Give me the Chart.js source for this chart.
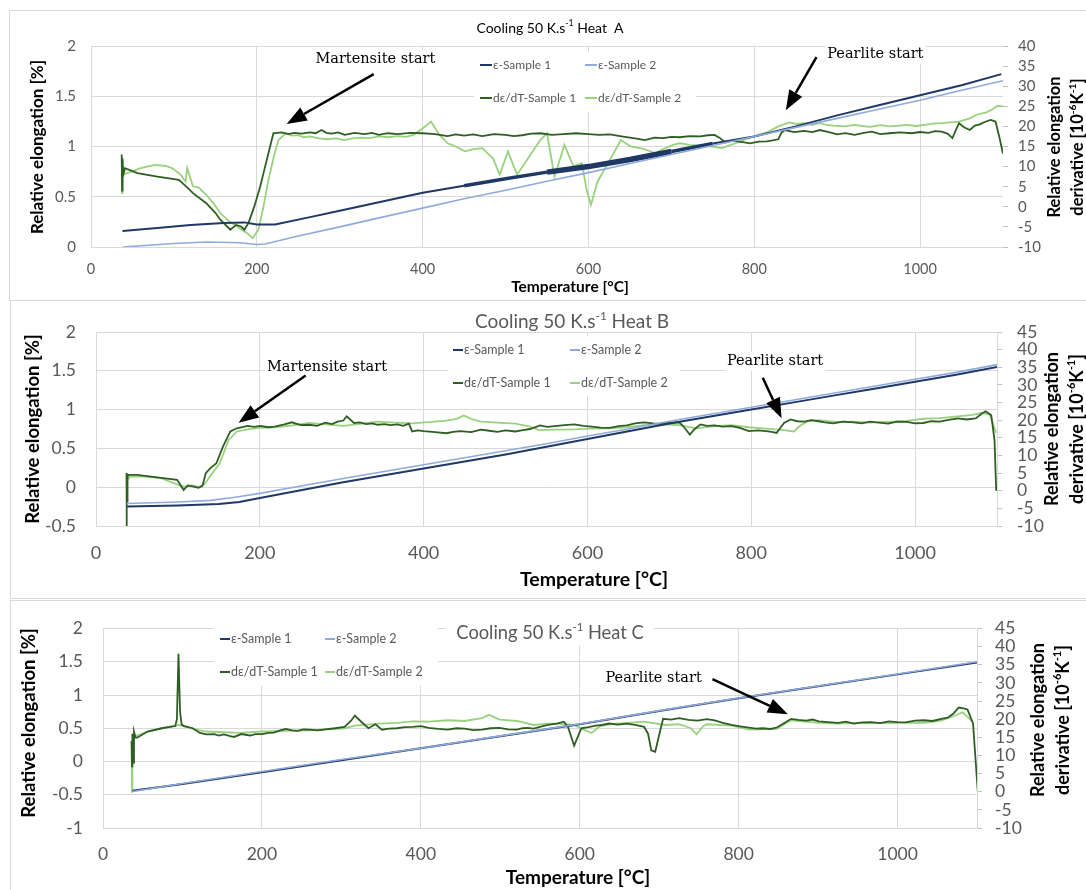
<!DOCTYPE html>
<html>
<head>
<meta charset="utf-8">
<script src="https://cdn.jsdelivr.net/npm/chart.js@4.4.1/dist/chart.umd.min.js"></script>
<style>
  body { margin: 0; background: #fff; }
  #wrap { position: relative; width: 1086px; height: 890px; overflow: hidden; }
  canvas { position: absolute; left: 0; }
  .box { position: absolute; border: 1px solid #d9d9d9; box-sizing: border-box; }
</style>
</head>
<body>
<div id="wrap">
  <div class="box" style="left:9px;top:10px;width:1100px;height:291px"></div>
  <div class="box" style="left:10px;top:300px;width:1100px;height:299px"></div>
  <div class="box" style="left:10px;top:600px;width:1100px;height:300px"></div>
  <canvas id="chartA" width="1086" height="300" style="top:0"></canvas>
  <canvas id="chartB" width="1086" height="298" style="top:300px"></canvas>
  <canvas id="chartC" width="1086" height="292" style="top:598px"></canvas>
</div>
<script>
// ---- data (temperature [°C], value) ----
const seriesLabels = ['ε-Sample 1', 'ε-Sample 2', 'dε/dT-Sample 1', 'dε/dT-Sample 2'];
const tempRange = [0, 1100, 200];

// Heat A
const A_eps1 = [[38,0.16],[80,0.19],[120,0.22],[160,0.24],[185,0.245],[200,0.225],[222,0.225],[260,0.29],[300,0.36],[350,0.45],[400,0.54],[450,0.61],[500,0.68],[550,0.745],[600,0.8],[650,0.87],[700,0.95],[750,1.03],[800,1.1],[850,1.2],[900,1.31],[950,1.41],[1000,1.51],[1050,1.61],[1098,1.72]];
const A_eps2 = [[38,0.0],[100,0.035],[140,0.05],[180,0.042],[200,0.025],[210,0.03],[250,0.11],[300,0.2],[350,0.295],[400,0.387],[450,0.48],[500,0.565],[550,0.655],[600,0.74],[650,0.83],[700,0.92],[750,1.01],[800,1.1],[850,1.19],[900,1.28],[950,1.37],[1000,1.46],[1050,1.56],[1100,1.655]];
const A_d1 = [[37,13],[37.5,4],[38,12],[39,8],[41,9.6],[56,8.4],[80,7.5],[106,6.7],[115,5],[123,3.4],[139,0.9],[150,-1.5],[156,-3.2],[168,-5.7],[175,-4.5],[181,-4.9],[185,-5.7],[190,-4],[197,0.1],[204,5],[210,10],[216,15],[220,18.3],[230,18.5],[238,18.1],[245,18.4],[254,18.2],[264,18.5],[271,18.3],[278,19.1],[284,18.4],[290,18.2],[298,18.5],[306,17.9],[318,18.4],[330,18.1],[339,18.4],[347,17.9],[358,18.3],[370,18.1],[385,18.4],[400,18.3],[415,18.1],[430,17.6],[440,18],[450,17.7],[461,18],[472,17.6],[486,18.1],[500,17.9],[510,17.6],[520,17.8],[531,18.2],[542,18.3],[556,17.9],[570,18.1],[585,18.3],[600,18.1],[613,17.9],[626,18],[638,17.6],[650,17.2],[660,16.9],[668,16.6],[680,17.2],[690,17.1],[700,17.4],[710,17.3],[722,17.6],[735,17.5],[744,17.8],[752,17.9],[758,17.2],[765,16],[772,16.4],[780,16.3],[788,16],[795,15.8],[805,16.2],[815,16.3],[822,16.5],[829,16.8],[833,18.5],[837,19.1],[848,18.6],[860,18.9],[870,18.6],[879,19.1],[890,18.6],[900,18],[910,18.3],[921,17.9],[932,18.4],[942,18.7],[952,18.1],[963,18.3],[976,18.5],[990,18.3],[1000,18.6],[1010,18.4],[1018,18.8],[1026,18.7],[1033,18.2],[1039,17.1],[1043,19],[1047,20.8],[1053,19.8],[1060,19.1],[1066,20.2],[1072,20.5],[1078,21.1],[1085,21.6],[1091,21.2],[1096,17],[1100,13.2]];
const A_d2 = [[37,8.4],[37.5,3.4],[38,8],[44,8.4],[60,9.6],[77,10.4],[90,10.2],[98,9.6],[108,8],[114,6.3],[116,9.6],[123,5.1],[130,4.8],[139,3],[148,0.8],[156,-1.6],[166,-3.5],[176,-4.9],[188,-6.5],[195,-7.8],[202,-5.7],[208,0],[214,6.7],[220,12],[226,16.6],[235,18.3],[242,17.7],[250,17.8],[257,17.3],[264,17.5],[275,17],[285,16.8],[296,17],[306,16.6],[315,17],[325,17.2],[336,17.1],[347,17.5],[358,17.3],[370,17.6],[380,17.4],[389,17.9],[400,19.5],[410,21.2],[420,18],[430,15.8],[440,15],[451,13.8],[460,14.3],[472,14.6],[485,12],[493,8],[503,13.8],[510,10],[514,8],[526,11.7],[542,16.6],[550,18.3],[559,7.5],[571,15.4],[582,10],[592,10.9],[598,4],[603,0.5],[611,6.3],[626,11.7],[639,16.6],[651,15],[665,14.5],[672,14],[681,13.3],[688,14.2],[695,14.8],[702,15.4],[710,15.8],[722,15.4],[735,15.2],[748,15],[761,14.6],[770,15.3],[780,16],[790,16.8],[800,17.5],[815,18.5],[829,20],[842,21],[851,20.6],[860,20.8],[870,20.4],[879,20.8],[887,20.4],[895,20.2],[909,20],[921,20.4],[930,20.1],[940,19.9],[952,20.3],[963,20],[975,20.2],[985,20.4],[995,20.1],[1005,20.4],[1015,20.7],[1025,20.8],[1036,21],[1047,21.2],[1060,22],[1068,22.9],[1080,23.5],[1087,24.2],[1093,25.1],[1100,25]];

// Heat B
const B_eps1 = [[38,-0.25],[100,-0.235],[150,-0.215],[175,-0.19],[200,-0.14],[250,-0.04],[300,0.06],[350,0.15],[400,0.24],[450,0.33],[500,0.42],[550,0.52],[600,0.62],[650,0.72],[700,0.82],[750,0.91],[800,1.0],[850,1.09],[900,1.18],[950,1.27],[1000,1.36],[1050,1.45],[1100,1.55]];
const B_eps2 = [[38,-0.21],[100,-0.19],[140,-0.17],[170,-0.13],[200,-0.08],[250,0.015],[300,0.11],[350,0.2],[400,0.29],[450,0.38],[500,0.47],[550,0.56],[600,0.66],[650,0.75],[700,0.85],[750,0.94],[800,1.03],[850,1.12],[900,1.21],[950,1.3],[1000,1.39],[1050,1.48],[1100,1.58]];
const B_d1 = [[37,-10],[37.5,5],[38,-3],[38.5,4],[40,4.5],[50,4.5],[75,3.8],[99,3.1],[107,0.2],[112,1.5],[118,1.2],[125,0.8],[130,1.4],[134,5],[140,6.5],[147,7.8],[155,12.5],[164,16.8],[172,17.7],[185,18.4],[193,18.1],[201,18.4],[210,18],[218,18.2],[230,18.8],[239,19.4],[250,18.6],[260,18.7],[270,18.4],[280,19.3],[288,18.9],[295,19.6],[302,19.9],[306,21.1],[315,19.2],[322,19.4],[330,18.9],[337,19.1],[344,18.7],[352,18.9],[360,18.6],[368,18.8],[375,18.4],[382,19],[386,16.8],[393,17.1],[400,16.9],[414,16.6],[428,16.3],[436,16.7],[445,16.9],[458,16.6],[470,17.3],[480,17],[490,16.7],[500,17.1],[512,16.8],[521,17.2],[530,17.5],[542,18.5],[551,18.1],[560,18.3],[572,18.6],[584,18.8],[595,18.4],[605,18.2],[616,17.9],[627,17.8],[638,18.3],[648,18.5],[658,19.1],[669,19.4],[680,19.1],[690,19],[700,19.2],[712,19.4],[718,18],[725,15.9],[731,17.5],[738,18.8],[746,18.4],[755,18.5],[765,18.2],[776,18.3],[786,17.8],[797,16.9],[808,17.1],[818,16.9],[825,16.7],[831,16.4],[836,18],[840,19.2],[848,20.2],[856,19.7],[865,19.6],[873,20],[882,19.7],[890,19.4],[900,19.1],[912,19.6],[925,19.4],[935,19.1],[945,19.6],[956,19.3],[967,19],[978,19.6],[990,19.5],[1000,19.1],[1010,19.2],[1020,19.7],[1030,19.6],[1041,20.1],[1052,20.5],[1063,20.2],[1074,20.5],[1080,21.6],[1086,22.5],[1093,21.4],[1097,14.3],[1099,0]];
const B_d2 = [[37,5],[37.5,-2.6],[38,3],[42,4],[60,4],[80,3.5],[101,1.6],[109,1.1],[118,1.5],[126,1],[133,2],[139,4],[151,7.8],[162,14.4],[172,16.8],[185,17.4],[200,17.8],[218,18],[240,18.5],[260,19.2],[280,18.8],[302,18.4],[320,18.9],[344,19.6],[365,19.3],[386,19.1],[410,19.5],[428,19.9],[440,20.4],[449,21.3],[460,20.2],[470,19.6],[490,19.3],[512,19],[530,18.2],[541,17.2],[560,17.3],[584,17.4],[605,17.6],[627,17.7],[648,18],[669,18.6],[690,18.8],[712,18.6],[733,17.7],[755,18.3],[776,18.6],[797,18],[818,17.6],[840,17.2],[852,16.8],[860,18.5],[869,19.7],[882,20],[903,19.5],[925,19.6],[945,19.3],[967,19.5],[990,19.8],[1010,20.4],[1030,20.6],[1052,21.1],[1070,21.5],[1082,22.1],[1091,21.6],[1099,16.4]];

// Heat C
const C_eps1 = [[37,-0.44],[100,-0.34],[200,-0.16],[300,0.02],[400,0.2],[500,0.38],[600,0.56],[700,0.76],[800,0.95],[900,1.13],[1000,1.31],[1100,1.49]];
const C_eps2 = [[37,-0.45],[100,-0.33],[200,-0.15],[300,0.03],[400,0.2],[500,0.385],[600,0.565],[700,0.765],[800,0.955],[900,1.135],[1000,1.315],[1100,1.5]];
const C_d1 = [[36,14],[36.5,7],[37,16],[38,8],[39,16.6],[41,14.9],[43,14.9],[56,16.6],[74,17.5],[91,18.1],[93,20],[95,38],[97,22],[99,18.5],[102,18.1],[113,17.5],[122,16.2],[130,15.8],[140,15.9],[146,15.5],[152,15.8],[160,15.3],[165,15.1],[174,15.9],[185,15.5],[192,15.9],[200,15.9],[208,16.2],[215,16.3],[223,16.9],[230,17.3],[238,16.9],[245,16.8],[252,17.2],[260,17.1],[270,16.9],[280,17.2],[292,17.5],[304,17.9],[312,19.5],[317,21],[325,19.3],[334,17.5],[343,18.6],[351,17.1],[360,17.4],[370,17.5],[380,17.8],[390,17.9],[400,18.1],[410,17.6],[422,17.3],[434,17.1],[445,17.5],[455,17.4],[466,17],[477,17.1],[488,17.5],[499,17.6],[510,17.2],[521,17.1],[528,17.5],[535,17.6],[542,17.4],[550,17.9],[560,18.4],[571,18.8],[580,19.3],[585,18],[593,12.7],[602,17.5],[611,17.8],[620,18.2],[628,18.4],[637,18.8],[648,18.5],[659,18.8],[670,18.4],[681,17.9],[686,16],[690,11.4],[695,11],[701,16.6],[705,20.1],[715,19.9],[725,20.3],[737,19.8],[748,19.6],[760,20],[770,19.7],[780,19],[791,18.4],[802,18],[813,17.7],[822,17.4],[830,17.5],[840,17.3],[848,17.7],[857,18.9],[866,20.1],[875,19.8],[885,19.6],[893,19.9],[901,19.4],[913,19.2],[925,19],[935,19.3],[945,18.8],[956,19.1],[967,19.2],[978,18.9],[989,19.4],[1000,19.2],[1010,19.1],[1022,19.6],[1033,19.7],[1044,19.5],[1055,20.1],[1063,20.4],[1070,21.5],[1077,23.2],[1083,23],[1088,22.7],[1095,18.8],[1101,0]];
const C_d2 = [[36,14],[36.5,0],[37,12],[39,15],[43,15.5],[56,16.6],[74,17.5],[95,18.4],[102,18.1],[113,17.3],[130,16.6],[152,16.4],[174,16.2],[200,16.6],[230,16.8],[260,16.9],[304,17.5],[317,18.2],[347,18.8],[370,19],[390,19.4],[410,19.3],[434,19.7],[455,19.5],[477,20.3],[486,21.2],[499,19.9],[521,19.5],[542,18.4],[560,18.8],[571,18.8],[593,18.4],[604,17.2],[615,16.2],[625,18],[637,18.6],[660,19],[681,19.3],[708,18.4],[725,18.6],[740,17.5],[747,15.8],[755,18],[760,18.6],[791,18.2],[813,17.1],[848,17.3],[866,19.7],[901,19],[925,18.8],[945,18.9],[967,19],[989,18.9],[1010,19],[1033,19],[1055,19.6],[1070,20.8],[1082,21.9],[1095,19.2]];

// axis ranges [min, max, step]
const A_left = [0, 2, 0.5],  A_right = [-10, 40, 5];
const B_left = [-0.5, 2, 0.5], B_right = [-10, 45, 5];
const C_left = [-1, 2, 0.5], C_right = [-10, 45, 5];

// annotations: text, text position (T, ε), arrow from (T, ε) to (T, ε)
const A_notes = [['Martensite start', 343, 1.87, 341, 1.72, 236, 1.225], ['Pearlite start', 946, 1.92, 875, 1.89, 838, 1.36]];
const B_notes = [['Martensite start', 282, 1.55, 256, 1.44, 174, 0.83], ['Pearlite start', 829, 1.62, 814, 1.41, 837, 0.89]];
const C_notes = [['Pearlite start', 693, 1.25, 767, 1.24, 862, 0.71]];

// text
const xTitle = 'Temperature [°C]';
const leftTitle = 'Relative elongation [%]';
const rightTitle = [['Relative elongation'], ['derivative [10', '^-6', 'K', '^-1', ']']];

// ---- styling ----
const GRID = '#d9d9d9';
const TXT = '#595959';
const FONT = 'Lato, "DejaVu Sans", sans-serif';
const SERIF = '"DejaVu Serif", "Liberation Serif", serif';
const COLORS = ['#1F3864', '#8FAADC', '#2F5E24', '#9AD17F'];
const WIDTHS = [2, 1.6, 1.8, 1.8];
const ORDER = [1, 0, 2, 3];

Chart.defaults.font.family = FONT;

const plainTick = v => String(Math.round(v * 100) / 100);

function rich(ctx, parts, x, y, size, weight, color, rot) {
  ctx.save();
  ctx.translate(x, y);
  if (rot) ctx.rotate(rot);
  ctx.fillStyle = color;
  ctx.textBaseline = 'middle';
  ctx.textAlign = 'left';
  const items = parts.map(p => p.startsWith('^') ? { t: p.slice(1), sup: true } : { t: p, sup: false });
  const fontOf = s => `${weight} ${s ? size * 0.62 : size}px ${FONT}`;
  let total = 0;
  items.forEach(p => { ctx.font = fontOf(p.sup); total += ctx.measureText(p.t).width; });
  let cx = -total / 2;
  items.forEach(p => {
    ctx.font = fontOf(p.sup);
    ctx.fillText(p.t, cx, p.sup ? -size * 0.32 : 0);
    cx += ctx.measureText(p.t).width;
  });
  ctx.restore();
}

function arrow(ctx, x1, y1, x2, y2) {
  const head = 20, w = 15;
  const a = Math.atan2(y2 - y1, x2 - x1);
  const bx = x2 - head * Math.cos(a), by = y2 - head * Math.sin(a);
  ctx.save();
  ctx.strokeStyle = '#000';
  ctx.fillStyle = '#000';
  ctx.lineWidth = 2.5;
  ctx.beginPath(); ctx.moveTo(x1, y1); ctx.lineTo(bx, by); ctx.stroke();
  ctx.beginPath();
  ctx.moveTo(x2, y2);
  ctx.lineTo(bx + w / 2 * Math.sin(a), by - w / 2 * Math.cos(a));
  ctx.lineTo(bx - w / 2 * Math.sin(a), by + w / 2 * Math.cos(a));
  ctx.closePath(); ctx.fill();
  ctx.restore();
}

function makePanel(P) {
  const toXY = arr => arr.map(p => ({ x: p[0], y: p[1] }));
  const datasets = P.series.map((s, i) => ({
    label: seriesLabels[i],
    data: toXY(s),
    borderColor: COLORS[i],
    borderWidth: WIDTHS[i],
    pointRadius: 0,
    tension: 0,
    yAxisID: i < 2 ? 'y' : 'y2',
    order: ORDER[i],
    segment: (P.band && i === 0) ? { borderWidth: c => P.band(c.p0.parsed.x) } : undefined
  }));

  const plugin = {
    id: 'deco' + P.id,
    beforeDatasetsDraw(chart) {
      const ctx = chart.ctx;
      ctx.save();
      ctx.fillStyle = '#fff';
      P.whiteBoxes.forEach(b => ctx.fillRect(b[0], b[1], b[2], b[3]));
      ctx.restore();
    },
    afterDatasetsDraw(chart) {
      const ctx = chart.ctx;
      const xs = chart.scales.x, ys = chart.scales.y;
      // legend
      const L = P.legend;
      ctx.save();
      ctx.font = `${L.size}px ${FONT}`;
      ctx.textBaseline = 'middle';
      seriesLabels.forEach((lab, i) => {
        const x = i % 2 === 0 ? L.x : L.col2;
        const y = i < 2 ? L.y1 : L.y2;
        ctx.strokeStyle = COLORS[i];
        ctx.lineWidth = 2;
        ctx.beginPath(); ctx.moveTo(x, y); ctx.lineTo(x + L.line, y); ctx.stroke();
        ctx.fillStyle = TXT;
        ctx.fillText(lab, x + L.line + 1, y);
      });
      ctx.restore();
      // annotations
      P.notes.forEach(n => {
        const tx = xs.getPixelForValue(n[1]), ty = ys.getPixelForValue(n[2]);
        ctx.save();
        ctx.font = `${P.noteSize}px ${SERIF}`;
        ctx.textAlign = 'center';
        ctx.textBaseline = 'middle';
        const w = ctx.measureText(n[0]).width;
        ctx.fillStyle = '#fff';
        ctx.fillRect(tx - w / 2 - 2, ty - P.noteSize * 0.65, w + 4, P.noteSize * 1.3);
        ctx.fillStyle = '#000';
        ctx.fillText(n[0], tx, ty);
        ctx.restore();
        arrow(ctx, xs.getPixelForValue(n[3]), ys.getPixelForValue(n[4]), xs.getPixelForValue(n[5]), ys.getPixelForValue(n[6]));
      });
    },
    afterDraw(chart) {
      const ctx = chart.ctx;
      const T = P.titles;
      rich(ctx, ['Cooling 50 K.s', '^-1', P.heat], T.main[0], T.main[1], T.main[2], 'normal', T.main[3], 0);
      rich(ctx, [leftTitle], T.left[0], T.left[1], T.left[2], 'bold', '#000', -Math.PI / 2);
      rich(ctx, [xTitle], T.x[0], T.x[1], T.x[2], 'bold', '#000', 0);
      rich(ctx, rightTitle[0], T.right[0], T.right[2], T.right[3], 'bold', '#000', -Math.PI / 2);
      rich(ctx, rightTitle[1], T.right[1], T.right[2], T.right[3], 'bold', '#000', -Math.PI / 2);
    }
  };

  const A = P.area, H = P.height, W = 1086;
  new Chart(document.getElementById(P.canvas), {
    type: 'line',
    data: { datasets },
    options: {
      responsive: false,
      animation: false,
      events: [],
      layout: { padding: { top: A.top, left: 0, right: 0, bottom: 0 } },
      plugins: { legend: { display: false }, tooltip: { enabled: false }, title: { display: false } },
      scales: {
        x: {
          type: 'linear', min: tempRange[0], max: tempRange[1],
          ticks: { stepSize: tempRange[2], includeBounds: false, color: TXT, font: { size: P.fonts.x }, padding: P.pads.x, maxRotation: 0, callback: plainTick },
          grid: { color: GRID, drawTicks: false },
          border: { display: false },
          afterFit(s) { s.height = H - A.bottom; }
        },
        y: {
          type: 'linear', position: 'left', min: P.left[0], max: P.left[1],
          ticks: { stepSize: P.left[2], color: TXT, font: { size: P.fonts.left }, padding: P.pads.left, autoSkip: false, callback: plainTick },
          grid: { color: GRID, drawTicks: false },
          border: { display: false },
          afterFit(s) { s.width = A.left; }
        },
        y2: {
          type: 'linear', position: 'right', min: P.right[0], max: P.right[1],
          ticks: { stepSize: P.right[2], color: TXT, font: { size: P.fonts.right, lineHeight: 1 }, padding: P.pads.right, autoSkip: false, callback: plainTick },
          grid: { drawOnChartArea: false, drawTicks: true, tickLength: 5, color: '#bfbfbf' },
          border: { display: P.rightBorder, color: GRID },
          afterFit(s) { s.width = W - A.right; }
        }
      }
    },
    plugins: [plugin]
  });
}

makePanel({
  id: 'A', canvas: 'chartA', height: 300, heat: ' Heat  A',
  series: [A_eps1, A_eps2, A_d1, A_d2], left: A_left, right: A_right, notes: A_notes,
  area: { left: 91, right: 1003, top: 46, bottom: 247 },
  fonts: { x: 14.5, left: 15, right: 15 }, pads: { x: 14, left: 15, right: 10 },
  rightBorder: false, noteSize: 14.5,
  band: t => (t >= 440 && t < 520) ? 3.5 : (t >= 520 && t < 660) ? 5.5 : (t >= 660 && t < 730) ? 3.5 : 2,
  legend: { x: 480, col2: 585, y1: 65, y2: 98, size: 12, line: 12 },
  whiteBoxes: [[474, 52, 222, 60]],
  titles: { main: [550, 28, 14, '#000'], left: [38, 147, 17], x: [570, 287, 15.5], right: [1055, 1078, 147, 16.5] }
});

makePanel({
  id: 'B', canvas: 'chartB', height: 298, heat: ' Heat B',
  series: [B_eps1, B_eps2, B_d1, B_d2], left: B_left, right: B_right, notes: B_notes,
  area: { left: 96, right: 997, top: 32, bottom: 226 },
  fonts: { x: 18, left: 17.5, right: 17.5 }, pads: { x: 16, left: 20, right: 15 },
  rightBorder: true, noteSize: 14.5,
  legend: { x: 453, col2: 570, y1: 50, y2: 83, size: 12.5, line: 10 },
  whiteBoxes: [[448, 36, 232, 60]],
  titles: { main: [572, 22, 19, TXT], left: [33, 129, 18.5], x: [594, 280, 19.5], right: [1052, 1077, 129, 18] }
});

makePanel({
  id: 'C', canvas: 'chartC', height: 292, heat: ' Heat C',
  series: [C_eps1, C_eps2, C_d1, C_d2], left: C_left, right: C_right, notes: C_notes,
  area: { left: 103, right: 977, top: 20, bottom: 230 },
  fonts: { x: 17.5, left: 17.5, right: 17.5 }, pads: { x: 16, left: 20, right: 13 },
  rightBorder: true, noteSize: 14.5,
  legend: { x: 220, col2: 325, y1: 41, y2: 74, size: 12.5, line: 10 },
  whiteBoxes: [[214, 26, 224, 62], [446, 22, 208, 26]],
  titles: { main: [550, 35, 18.3, TXT], left: [29, 125, 18.5], x: [578, 280, 19], right: [1038, 1063, 122, 18] }
});
</script>
</body>
</html>
